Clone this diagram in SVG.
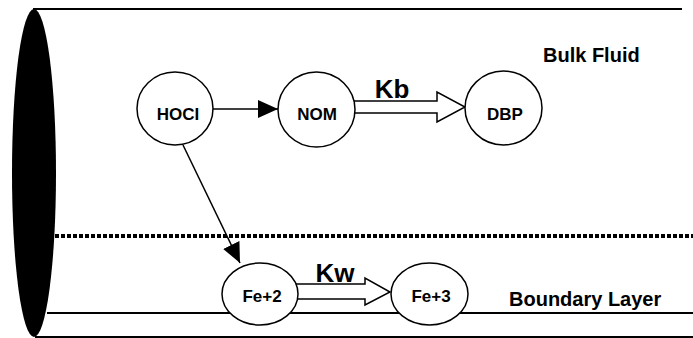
<svg xmlns="http://www.w3.org/2000/svg" width="693" height="338" viewBox="0 0 693 338">
  <style>
    .node ellipse { fill: #fff; stroke: #000; stroke-width: 1.5; }
    .lbl { font-family: "Liberation Sans", Arial, sans-serif; font-weight: bold; fill: #000; text-anchor: middle; }
    .small { font-size: 17px; }
    .big { font-size: 26px; }
    .zone { font-family: "Liberation Sans", Arial, sans-serif; font-weight: bold; font-size: 20px; fill: #000; }
    .pipe { stroke: #000; stroke-width: 2; fill: none; }
    .conn { stroke: #000; stroke-width: 1.5; fill: none; }
    .block { fill: #fff; stroke: #000; stroke-width: 1.5; stroke-linejoin: miter; }
  </style>
  <defs>
    <marker id="head" markerUnits="userSpaceOnUse" viewBox="0 0 20 18" markerWidth="20" markerHeight="18" refX="20" refY="9" orient="auto">
      <path d="M0,0 L20,9 L0,18 z" fill="#000"/>
    </marker>
  </defs>

  <g id="pipe">
    <line class="pipe" x1="33" y1="9" x2="682" y2="9"/>
    <line class="pipe" x1="47" y1="313" x2="693" y2="313"/>
    <line class="pipe" x1="35" y1="337" x2="693" y2="337"/>
    <line x1="55" y1="236" x2="693" y2="236" stroke="#000" stroke-width="4" stroke-dasharray="4 2"/>
    <ellipse cx="34" cy="173" rx="22" ry="164" fill="#000"/>
  </g>

  <g id="labels">
    <text class="zone" x="543" y="62">Bulk Fluid</text>
    <text class="zone" x="509" y="306">Boundary Layer</text>
  </g>

  <g id="connectors">
    <line class="conn" x1="213" y1="109" x2="278" y2="109" marker-end="url(#head)"/>
    <line class="conn" x1="183" y1="145" x2="240" y2="263" marker-end="url(#head)"/>
    <polygon class="block" points="350,101 437,101 437,92 465,107 437,122 437,113 350,113"/>
    <text class="lbl big" x="392" y="98">Kb</text>
    <polygon class="block" points="294,284 365,284 365,278 390,292 365,305 365,299 294,299"/>
    <text class="lbl big" x="335" y="282">Kw</text>
  </g>

  <g id="HOCl" class="node">
    <ellipse cx="175" cy="108.5" rx="38" ry="36.5"/>
    <text class="lbl small" x="178" y="120">HOCI</text>
  </g>
  <g id="NOM" class="node">
    <ellipse cx="316.5" cy="109.5" rx="38.5" ry="37.5"/>
    <text class="lbl small" x="317" y="120">NOM</text>
  </g>
  <g id="DBP" class="node">
    <ellipse cx="503.5" cy="108" rx="38.5" ry="37"/>
    <text class="lbl small" x="505" y="120">DBP</text>
  </g>
  <g id="Fe2" class="node">
    <ellipse cx="260" cy="294" rx="38" ry="31"/>
    <text class="lbl small" x="262" y="302">Fe+2</text>
  </g>
  <g id="Fe3" class="node">
    <ellipse cx="429.5" cy="294" rx="38.5" ry="31"/>
    <text class="lbl small" x="431" y="302">Fe+3</text>
  </g>
</svg>
